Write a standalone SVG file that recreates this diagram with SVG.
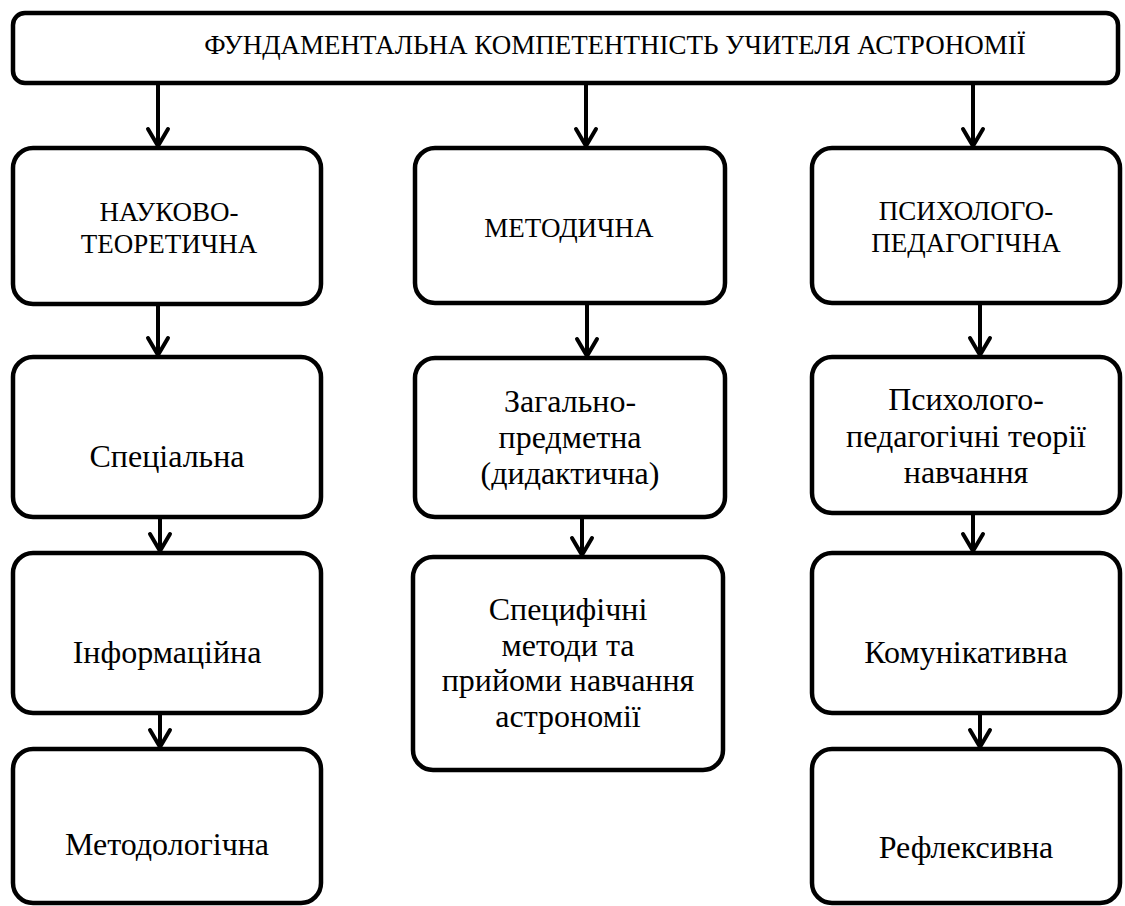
<svg xmlns="http://www.w3.org/2000/svg" width="1125" height="906" viewBox="0 0 1125 906">
<style>
.box{fill:#fff;stroke:#000;stroke-width:4.5}
text{font-family:"Liberation Serif","Times New Roman",serif;fill:#000;text-anchor:middle}
.u{font-size:27px}
.l{font-size:32px}
.c{stroke:#000;stroke-width:4;fill:none}
</style>
<defs>
<marker id="ah" markerUnits="userSpaceOnUse" viewBox="-22 -14 26 28" refX="0" refY="0" markerWidth="26" markerHeight="28" orient="auto" overflow="visible">
<path d="M -17 -10 L 0 0 L -17 10" fill="none" stroke="#000" stroke-width="4" stroke-linejoin="round" stroke-linecap="round"/>
</marker>
</defs>
<rect width="1125" height="906" fill="#fff"/>
<g id="connectors">
<line class="c" x1="158" y1="84" x2="158" y2="146" marker-end="url(#ah)"/>
<line class="c" x1="586" y1="84" x2="586" y2="146" marker-end="url(#ah)"/>
<line class="c" x1="973" y1="84" x2="973" y2="146" marker-end="url(#ah)"/>
<line class="c" x1="158" y1="304" x2="158" y2="355" marker-end="url(#ah)"/>
<line class="c" x1="160" y1="517" x2="160" y2="551" marker-end="url(#ah)"/>
<line class="c" x1="160" y1="713" x2="160" y2="747" marker-end="url(#ah)"/>
<line class="c" x1="587" y1="303" x2="587" y2="356" marker-end="url(#ah)"/>
<line class="c" x1="582" y1="517" x2="582" y2="555" marker-end="url(#ah)"/>
<line class="c" x1="980" y1="303" x2="980" y2="355" marker-end="url(#ah)"/>
<line class="c" x1="973" y1="513" x2="973" y2="551" marker-end="url(#ah)"/>
<line class="c" x1="980" y1="713" x2="980" y2="747" marker-end="url(#ah)"/>
</g>
<g id="top">
<rect class="box" x="13" y="13" width="1105" height="70" rx="12"/>
<text class="u" x="615" y="54">ФУНДАМЕНТАЛЬНА КОМПЕТЕНТНІСТЬ УЧИТЕЛЯ АСТРОНОМІЇ</text>
</g>
<g id="a1">
<rect class="box" x="13" y="148" width="308" height="156" rx="20"/>
<text class="u" x="169" y="221">НАУКОВО-</text>
<text class="u" x="169" y="253">ТЕОРЕТИЧНА</text>
</g>
<g id="a2">
<rect class="box" x="13" y="357" width="308" height="160" rx="20"/>
<text class="l" x="167" y="467">Спеціальна</text>
</g>
<g id="a3">
<rect class="box" x="13" y="553" width="308" height="160" rx="20"/>
<text class="l" x="167" y="663">Інформаційна</text>
</g>
<g id="a4">
<rect class="box" x="13" y="749" width="308" height="154" rx="20"/>
<text class="l" x="167" y="855">Методологічна</text>
</g>
<g id="b1">
<rect class="box" x="415" y="148" width="310" height="155" rx="20"/>
<text class="u" x="569" y="237">МЕТОДИЧНА</text>
</g>
<g id="b2">
<rect class="box" x="415" y="358" width="310" height="159" rx="20"/>
<text class="l" x="570" y="412">Загально-</text>
<text class="l" x="570" y="448">предметна</text>
<text class="l" x="570" y="484">(дидактична)</text>
</g>
<g id="b3">
<rect class="box" x="413" y="557" width="310" height="213" rx="20"/>
<text class="l" x="568" y="620">Специфічні</text>
<text class="l" x="568" y="656">методи та</text>
<text class="l" x="568" y="691">прийоми навчання</text>
<text class="l" x="568" y="727">астрономії</text>
</g>
<g id="c1">
<rect class="box" x="812" y="148" width="308" height="155" rx="20"/>
<text class="u" x="966" y="220">ПСИХОЛОГО-</text>
<text class="u" x="966" y="252">ПЕДАГОГІЧНА</text>
</g>
<g id="c2">
<rect class="box" x="812" y="357" width="308" height="156" rx="20"/>
<text class="l" x="966" y="410">Психолого-</text>
<text class="l" x="966" y="447">педагогічні теорії</text>
<text class="l" x="966" y="483">навчання</text>
</g>
<g id="c3">
<rect class="box" x="812" y="553" width="308" height="160" rx="20"/>
<text class="l" x="966" y="663">Комунікативна</text>
</g>
<g id="c4">
<rect class="box" x="812" y="749" width="308" height="154" rx="20"/>
<text class="l" x="966" y="858">Рефлексивна</text>
</g>
</svg>
